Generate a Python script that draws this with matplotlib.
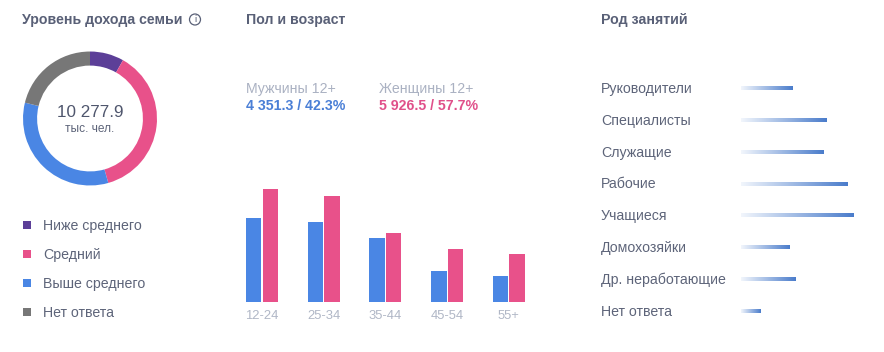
import matplotlib.pyplot as plt
import numpy as np
from matplotlib.colors import LinearSegmentedColormap
from matplotlib.patches import Circle, Rectangle

W, H = 884, 352

# palette
TITLE = "#596077"
LABEL = "#5d6479"
MUTED = "#aab1c2"
PURPLE = "#5c3f98"
PINK = "#e8518a"
BLUE = "#4a86e4"
GREY = "#777777"
LINE_END = "#4a7ccb"
FS = 10.2

plt.rcParams["font.family"] = ["Liberation Sans", "DejaVu Sans"]

# income donut
income_labels = ["Ниже среднего", "Средний", "Выше среднего", "Нет ответа"]
income_share = [8.2, 37.4, 33.2, 21.2]
income_colors = [PURPLE, PINK, BLUE, GREY]
total_text = "10 277.9"

# sex / age bars (thousands)
age_groups = ["12-24", "25-34", "35-44", "45-54", "55+"]
male = [1283, 1222, 977, 473, 397]
female = [1722, 1615, 1051, 807, 731]
male_text = "4 351.3 / 42.3%"
female_text = "5 926.5 / 57.7%"

# occupation
occupations = ["Руководители", "Специалисты", "Служащие", "Рабочие",
               "Учащиеся", "Домохозяйки", "Др. неработающие", "Нет ответа"]
occ_share = [5.2, 8.6, 8.3, 10.7, 11.3, 4.9, 5.5, 2.0]


def px_axes(fig, x0, y0, w, h):
    """Axes placed in pixel coordinates (y measured from top)."""
    return fig.add_axes([x0 / W, 1 - (y0 + h) / H, w / W, h / H])


fig = plt.figure(figsize=(W / 100, H / 100), dpi=100)
fig.patch.set_facecolor("white")

# overlay for free text, pixel coordinates
ov = fig.add_axes([0, 0, 1, 1])
ov.set_xlim(0, W)
ov.set_ylim(H, 0)
ov.axis("off")

# headers
ov.text(22, 20, "Уровень дохода семьи", fontsize=FS, fontweight="bold",
        color=TITLE, va="center", ha="left")
ov.add_patch(Circle((195, 19.5), 5.5, fill=False, edgecolor=TITLE, linewidth=0.9))
ov.text(195, 20, "i", fontsize=6.8, color=TITLE, ha="center", va="center")
ov.text(246, 20, "Пол и возраст", fontsize=FS, fontweight="bold",
        color=TITLE, va="center", ha="left")
ov.text(601, 20, "Род занятий", fontsize=FS, fontweight="bold",
        color=TITLE, va="center", ha="left")

# donut
dax = px_axes(fig, 20, 48.5, 140, 140)
dax.pie(income_share, colors=income_colors, startangle=90, counterclock=False,
        radius=1.0, wedgeprops=dict(width=0.21, linewidth=0))
dax.set_xlim(-1.045, 1.045)
dax.set_ylim(-1.045, 1.045)
dax.set_aspect("equal")
dax.text(0, 0.09, total_text, fontsize=12.3, color="#4f566d", ha="center", va="center")
dax.text(0, -0.16, "тыс. чел.", fontsize=8.6, color=LABEL, ha="center", va="center")

# income legend
for i, (lab, col) in enumerate(zip(income_labels, income_colors)):
    y = 225 + 29 * i
    ov.add_patch(Rectangle((23, y - 4), 8, 8, color=col, linewidth=0))
    ov.text(43, y + 0.8, lab, fontsize=FS, color=LABEL, va="center", ha="left")

# sex totals
ov.text(246, 89, "Мужчины 12+", fontsize=FS, color=MUTED, va="center")
ov.text(246, 106.5, male_text, fontsize=FS, color="#4a7fd6", fontweight="bold", va="center")
ov.text(379, 89, "Женщины 12+", fontsize=FS, color=MUTED, va="center")
ov.text(379, 106.5, female_text, fontsize=FS, color="#e0508a", fontweight="bold", va="center")

# bars
bax = px_axes(fig, 230, 170, 300, 132)
x = np.arange(len(age_groups))
bw = 0.251
bax.bar(x - 0.134, male, width=bw, color=BLUE, linewidth=0)
bax.bar(x + 0.134, female, width=bw, color=PINK, linewidth=0)
bax.set_xlim(-0.519, 4.343)
bax.set_ylim(0, 132 * 15.27)
bax.set_xticks(x, age_groups)
bax.tick_params(axis="x", length=0, pad=5.5, labelsize=9.4, labelcolor="#b0b7c6")
bax.set_yticks([])
for s in bax.spines.values():
    s.set_visible(False)

# occupation gradient lines
oax = px_axes(fig, 741, 70, 143, 260)
grad = np.linspace(0, 1, 256).reshape(1, -1)
cmap = LinearSegmentedColormap.from_list("occ", ["#f2f6fc", LINE_END])
for i, (lab, val) in enumerate(zip(occupations, occ_share)):
    y = 88.3 + 31.9 * i
    oax.imshow(grad, cmap=cmap, extent=(0, val, y + 1.6, y - 1.6),
               aspect="auto", interpolation="bilinear")
    ov.text(601, y + 0.5, lab, fontsize=FS, color=LABEL, va="center", ha="left")
oax.set_xlim(0, 14.3)
oax.set_ylim(330, 70)
oax.axis("off")

fig.savefig("out.png", dpi=100, facecolor="white")
